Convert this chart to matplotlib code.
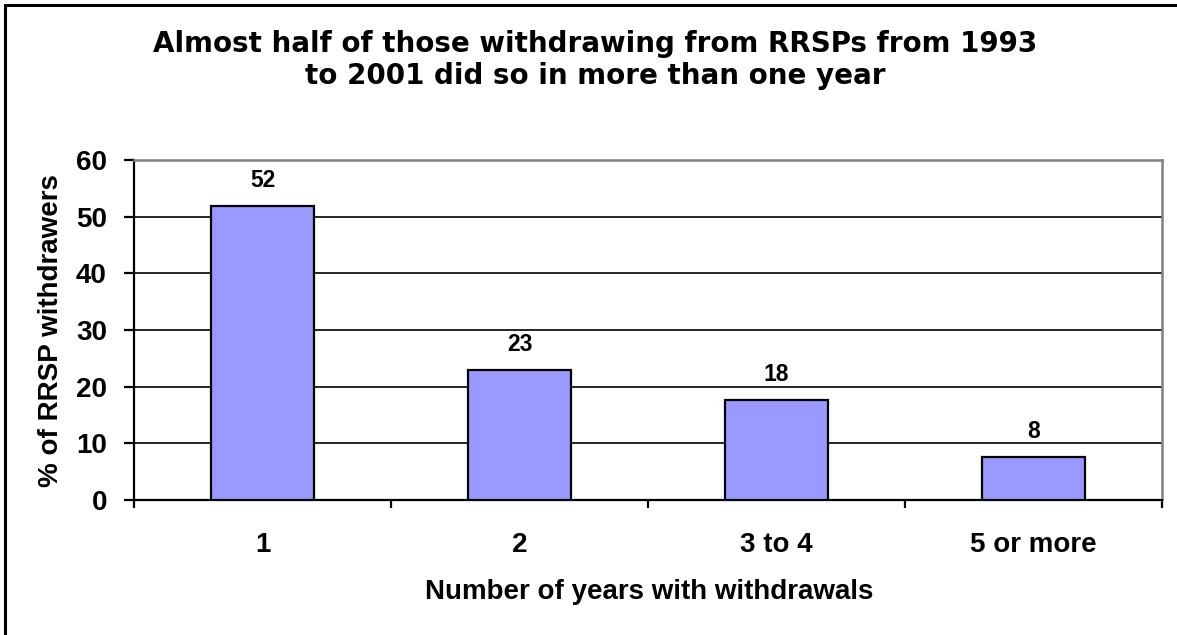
import matplotlib
matplotlib.use("Agg")
import matplotlib.pyplot as plt
from matplotlib.patches import Rectangle
import numpy as np

categories = ["1", "2", "3 to 4", "5 or more"]
shares = [51.8, 22.9, 17.6, 7.6]
y_ticks = [0, 10, 20, 30, 40, 50, 60]

title = "Almost half of those withdrawing from RRSPs from 1993\nto 2001 did so in more than one year"
x_label = "Number of years with withdrawals"
y_label = "% of RRSP withdrawers"

W, H = 1177, 635
fig = plt.figure(figsize=(W / 100, H / 100), dpi=100)
fig.patch.set_facecolor("white")

# outer chart frame
fig.patches.append(Rectangle((5 / W, -0.1), 1.2, 1 - 5 / H + 0.1,
                             transform=fig.transFigure, fill=False,
                             edgecolor="black", linewidth=2.2))

ax = fig.add_axes([134 / W, 1 - 500 / H, (1162 - 134) / W, (500 - 160) / H])

x = np.arange(len(categories))
ax.bar(x, shares, width=0.4, color="#9999FF", edgecolor="black",
       linewidth=1.6, zorder=3)

for xi, v in zip(x, shares):
    ax.annotate(f"{v:.0f}", (xi, v), xytext=(0, 18.5), textcoords="offset points",
                ha="center", va="center", fontsize=16.5, fontweight="bold",
                family="Liberation Sans")

ax.set_xlim(-0.5, len(categories) - 0.5)
ax.set_ylim(0, 60)
ax.set_yticks(y_ticks)
for t in y_ticks[1:-1]:
    ax.axhline(t, color="black", linewidth=1.2, zorder=1)

# category boundaries carry the ticks, names sit at the centres
ax.set_xticks(np.arange(-0.5, len(categories), 1.0))
ax.set_xticklabels([])
ax.set_xticks(x, minor=True)
ax.set_xticklabels(categories, minor=True)
ax.tick_params(axis="x", which="major", direction="out", length=6, width=1.6, color="black")
ax.tick_params(axis="x", which="minor", length=0, pad=23)
ax.tick_params(axis="y", direction="out", length=7, width=1.6, pad=12.5)

for lab in ax.get_xticklabels(minor=True) + ax.get_yticklabels():
    lab.set_fontfamily("Liberation Sans")
    lab.set_fontweight("bold")
    lab.set_fontsize(20)

ax.spines["left"].set_color("black")
ax.spines["left"].set_linewidth(1.6)
ax.spines["bottom"].set_color("black")
ax.spines["bottom"].set_linewidth(1.6)
ax.spines["top"].set_color("#808080")
ax.spines["top"].set_linewidth(1.8)
ax.spines["right"].set_color("#808080")
ax.spines["right"].set_linewidth(1.8)

fig.text(595 / W, 1 - 60 / H, title, ha="center", va="center", fontsize=20.0,
         fontweight="bold", family="DejaVu Sans", linespacing=1.22)
fig.text(649 / W, 1 - 592 / H, x_label, ha="center", va="center", fontsize=20,
         fontweight="bold", family="Liberation Sans")
fig.text(51 / W, 1 - 331 / H, y_label, ha="center", va="center", rotation=90,
         fontsize=20, fontweight="bold", family="Liberation Sans")

fig.savefig("out.png", dpi=100)
